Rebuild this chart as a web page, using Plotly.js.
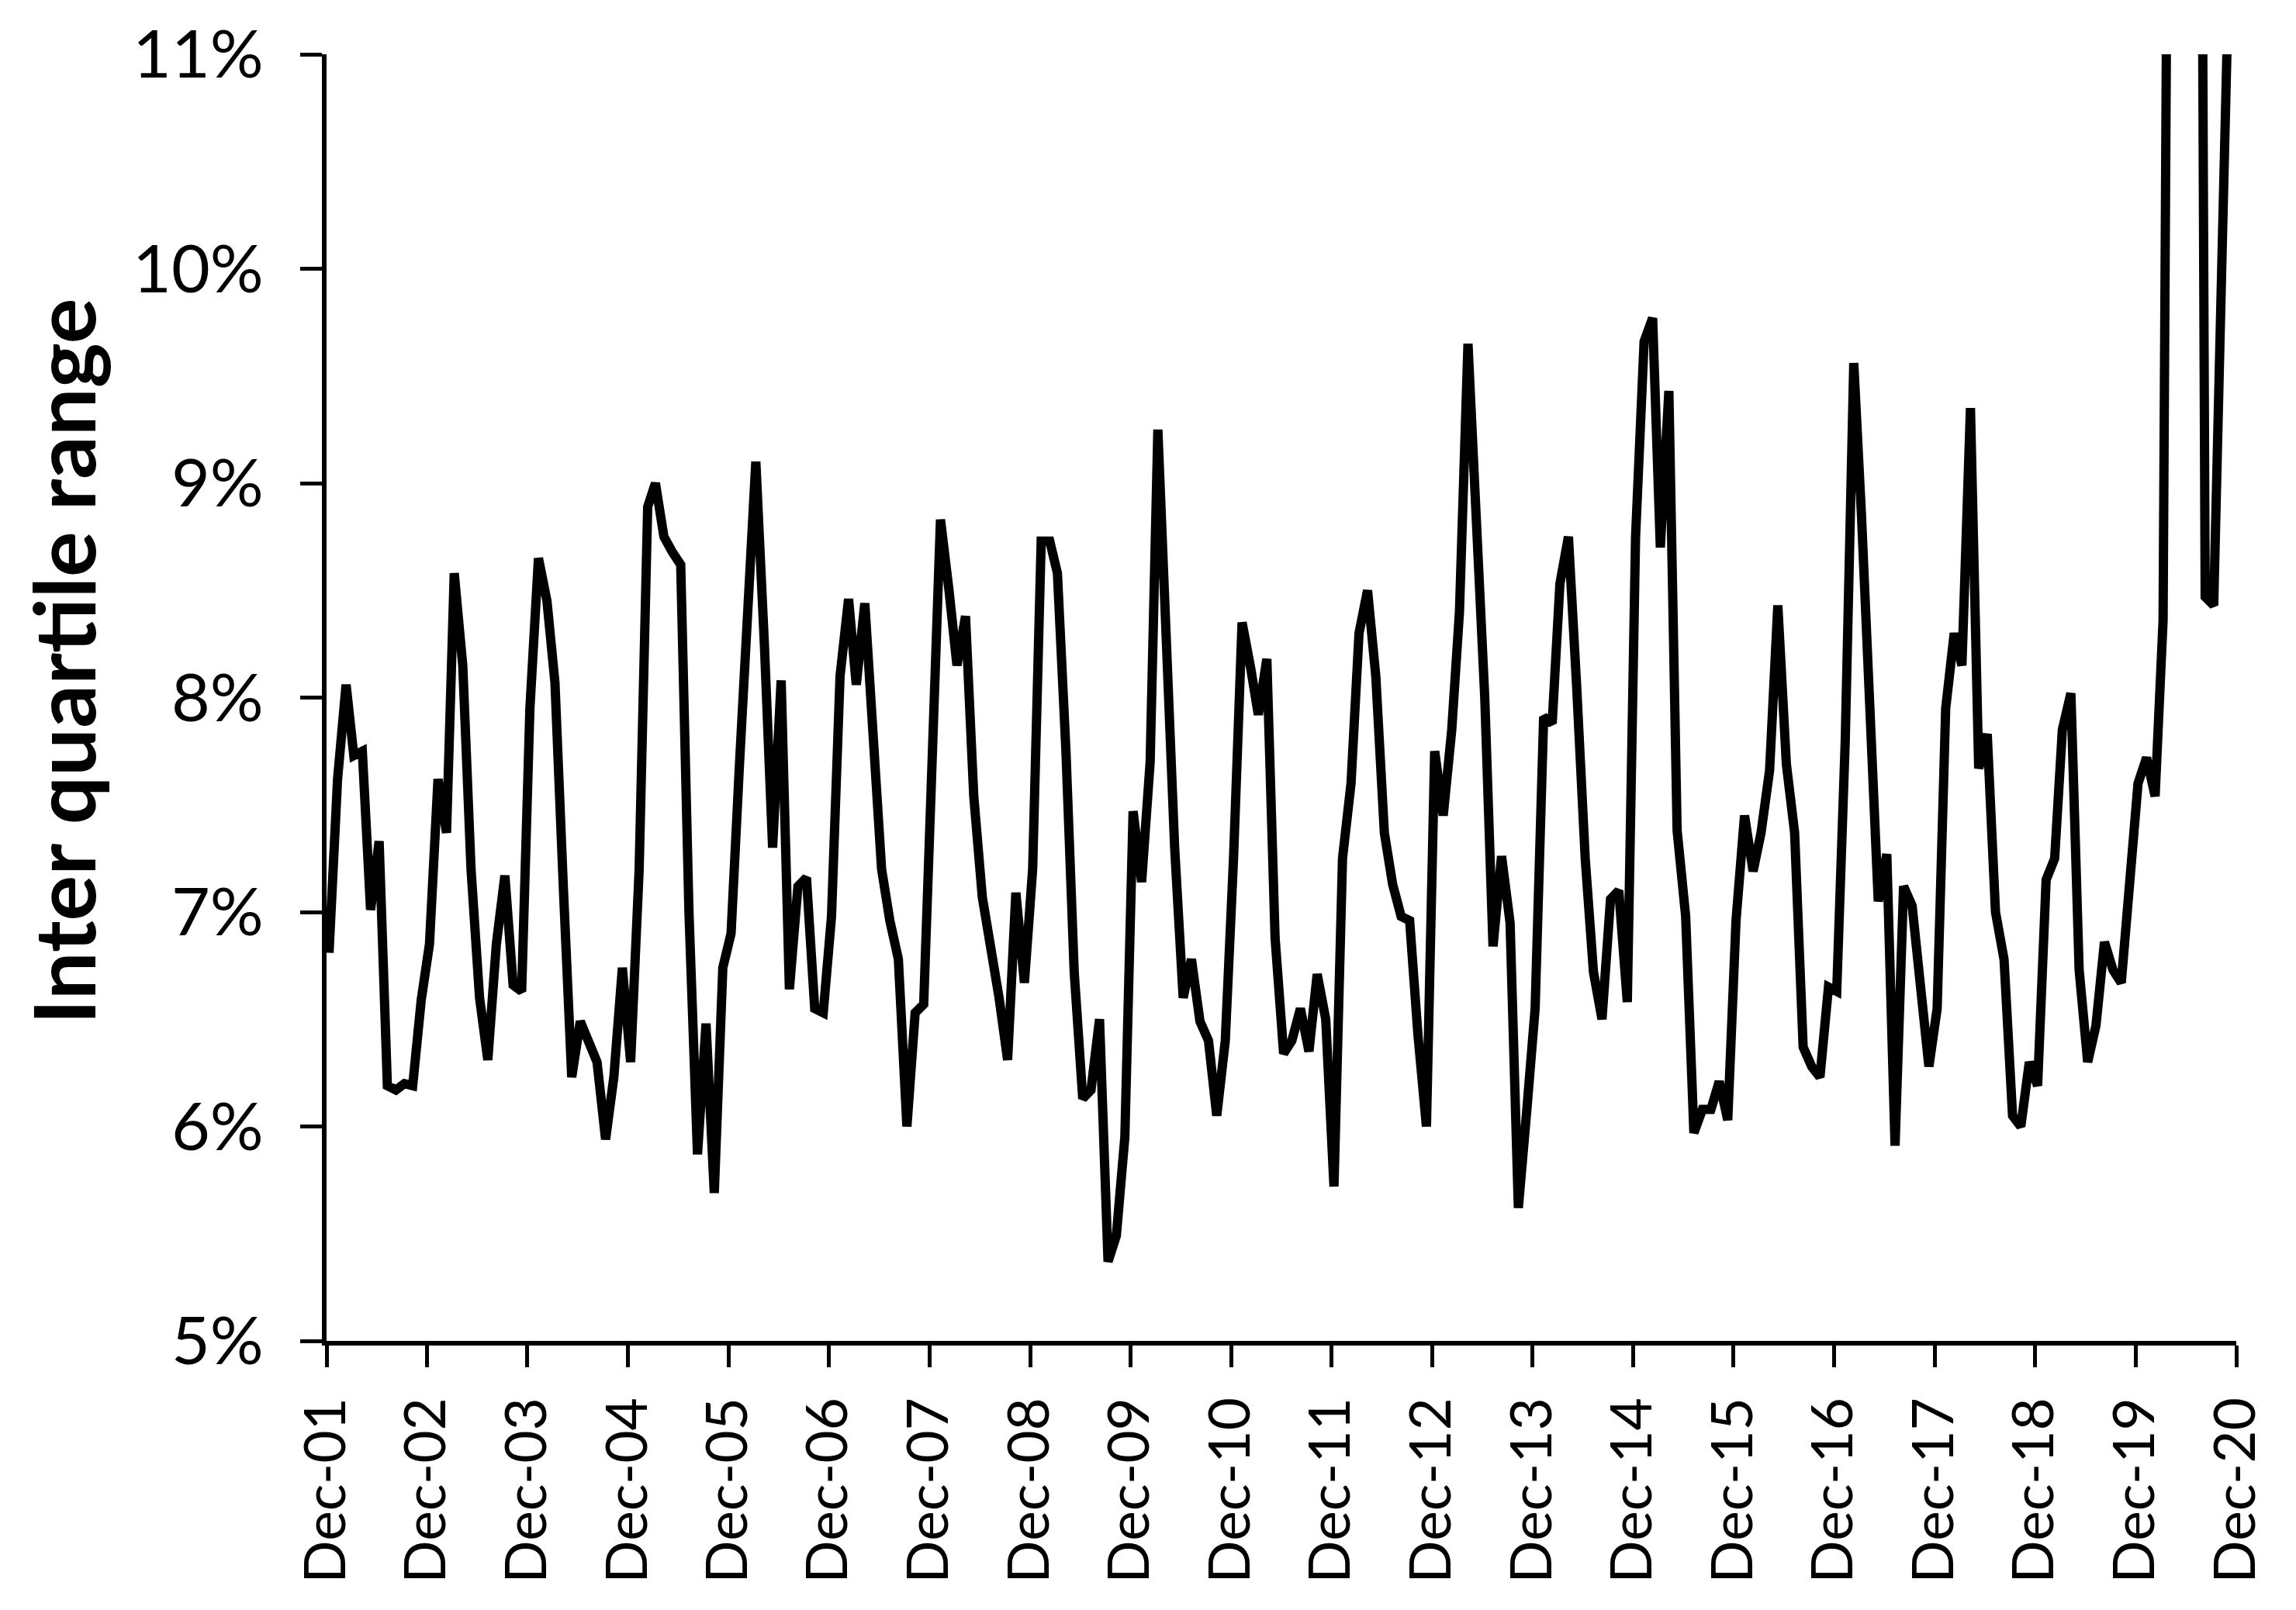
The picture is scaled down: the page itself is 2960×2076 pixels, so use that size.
<!DOCTYPE html>
<html>
<head>
<meta charset="utf-8">
<script src="https://cdn.plot.ly/plotly-3.0.1.min.js"></script>
<style>
    body { margin: 0; background: #ffffff; }
</style>
</head>
<body>
<div id="chart" style="width:2960px;height:2076px"></div>
<script>
// monthly inter quartile range (%), Dec-01 .. Nov-20, one row per Dec..Nov year
const iqr = [
    6.81, 7.62, 8.06, 7.73, 7.75, 7.01, 7.33, 6.19, 6.17, 6.20, 6.19, 6.59,
    6.85, 7.62, 7.37, 8.58, 8.15, 7.20, 6.60, 6.31, 6.85, 7.17, 6.66, 6.63,
    7.95, 8.65, 8.45, 8.07, 7.10, 6.23, 6.49, 6.39, 6.30, 5.94, 6.23, 6.74,
    6.30, 7.20, 8.89, 9.00, 8.75, 8.68, 8.62, 7.00, 5.87, 6.48, 5.69, 6.74,
    6.90, 7.70, 8.35, 9.10, 8.25, 7.30, 8.08, 6.64, 7.12, 7.16, 6.55, 6.53,
    6.98, 8.10, 8.46, 8.06, 8.44, 7.75, 7.20, 6.96, 6.78, 6.00, 6.53, 6.57,
    7.70, 8.83, 8.50, 8.15, 8.38, 7.54, 7.07, 6.85, 6.60, 6.31, 7.09, 6.67,
    7.20, 8.73, 8.73, 8.58, 7.75, 6.72, 6.13, 6.17, 6.50, 5.37, 5.49, 5.95,
    7.47, 7.14, 7.70, 9.25, 8.10, 7.30, 6.60, 6.78, 6.49, 6.40, 6.05, 6.40,
    7.25, 8.35, 8.14, 7.92, 8.18, 6.88, 6.34, 6.40, 6.55, 6.35, 6.71, 6.50,
    5.72, 7.25, 7.60, 8.30, 8.50, 8.10, 7.37, 7.13, 6.98, 6.96, 6.43, 6.00,
    7.75, 7.45, 7.85, 8.40, 9.65, 8.75, 8.00, 6.84, 7.26, 6.95, 5.62, 6.08,
    6.55, 7.91, 7.88, 8.53, 8.75, 8.05, 7.25, 6.72, 6.50, 7.06, 7.10, 6.58,
    8.75, 9.66, 9.77, 8.70, 9.43, 7.38, 6.98, 5.97, 6.08, 6.08, 6.21, 6.03,
    6.96, 7.45, 7.19, 7.37, 7.66, 8.43, 7.69, 7.37, 6.37, 6.28, 6.23, 6.65,
    6.63, 7.80, 9.56, 8.85, 8.00, 7.05, 7.27, 5.91, 7.12, 7.03, 6.66, 6.28,
    6.55, 7.95, 8.30, 8.15, 9.35, 7.67, 7.83, 7.00, 6.78, 6.05, 6.00, 6.30,
    6.19, 7.15, 7.25, 7.85, 8.02, 6.73, 6.30, 6.47, 6.86, 6.73, 6.67, 7.10,
    7.60, 7.72, 7.54, 8.36, 19.5, 22.0, 21.0, 17.5, 8.47, 8.43, 10.05, 11.7
];

const firstYear = 2001;
const firstMonth = 12;
const yTicks = [5, 6, 7, 8, 9, 10, 11];

// one date per value, monthly from Dec 2001
function buildDates() {
    const dates = [];
    for (let i = 0; i < iqr.length; i++) {
        const m = firstMonth - 1 + i;
        const y = firstYear + Math.floor(m / 12);
        const mm = String((m % 12) + 1).padStart(2, '0');
        dates.push(y + '-' + mm + '-10');
    }
    return dates;
}

function draw() {
    Plotly.newPlot('chart', [{
        x: buildDates(),
        y: iqr,
        type: 'scatter',
        mode: 'lines',
        line: { color: '#000000', width: 12 },
        hoverinfo: 'skip'
    }], {
        width: 2960,
        height: 2076,
        margin: { l: 421, r: 77, t: 70, b: 347 },
        paper_bgcolor: '#ffffff',
        plot_bgcolor: '#ffffff',
        showlegend: false,
        xaxis: {
            type: 'date',
            range: ['2001-12-01', '2020-12-01'],
            tick0: '2001-12-01',
            dtick: 'M12',
            tickformat: '%b-%y',
            tickangle: -90,
            ticks: 'outside',
            ticklen: 28,
            tickwidth: 5,
            tickcolor: '#000000',
            ticklabelstandoff: 10,
            showline: true,
            linecolor: '#000000',
            linewidth: 6,
            showgrid: false,
            zeroline: false,
            tickfont: { family: 'Lato', size: 73, color: '#000000' }
        },
        yaxis: {
            range: [5, 11],
            tickvals: yTicks,
            ticktext: yTicks.map(function(v) { return v + '%'; }),
            ticks: 'outside',
            ticklen: 28,
            tickwidth: 5,
            tickcolor: '#000000',
            ticklabelstandoff: 30,
            showline: true,
            linecolor: '#000000',
            linewidth: 6,
            showgrid: false,
            zeroline: false,
            tickfont: { family: 'Lato', size: 86, color: '#000000' }
        },
        annotations: [{
            text: 'Inter quartile range',
            textangle: -90,
            showarrow: false,
            xref: 'paper',
            yref: 'paper',
            x: -0.1385,
            y: 0.528,
            xanchor: 'center',
            yanchor: 'middle',
            font: { family: 'Lato', size: 110, weight: 'bold', color: '#000000' }
        }]
    }, { staticPlot: true });
}

window.onload = draw;
</script>
</body>
</html>
